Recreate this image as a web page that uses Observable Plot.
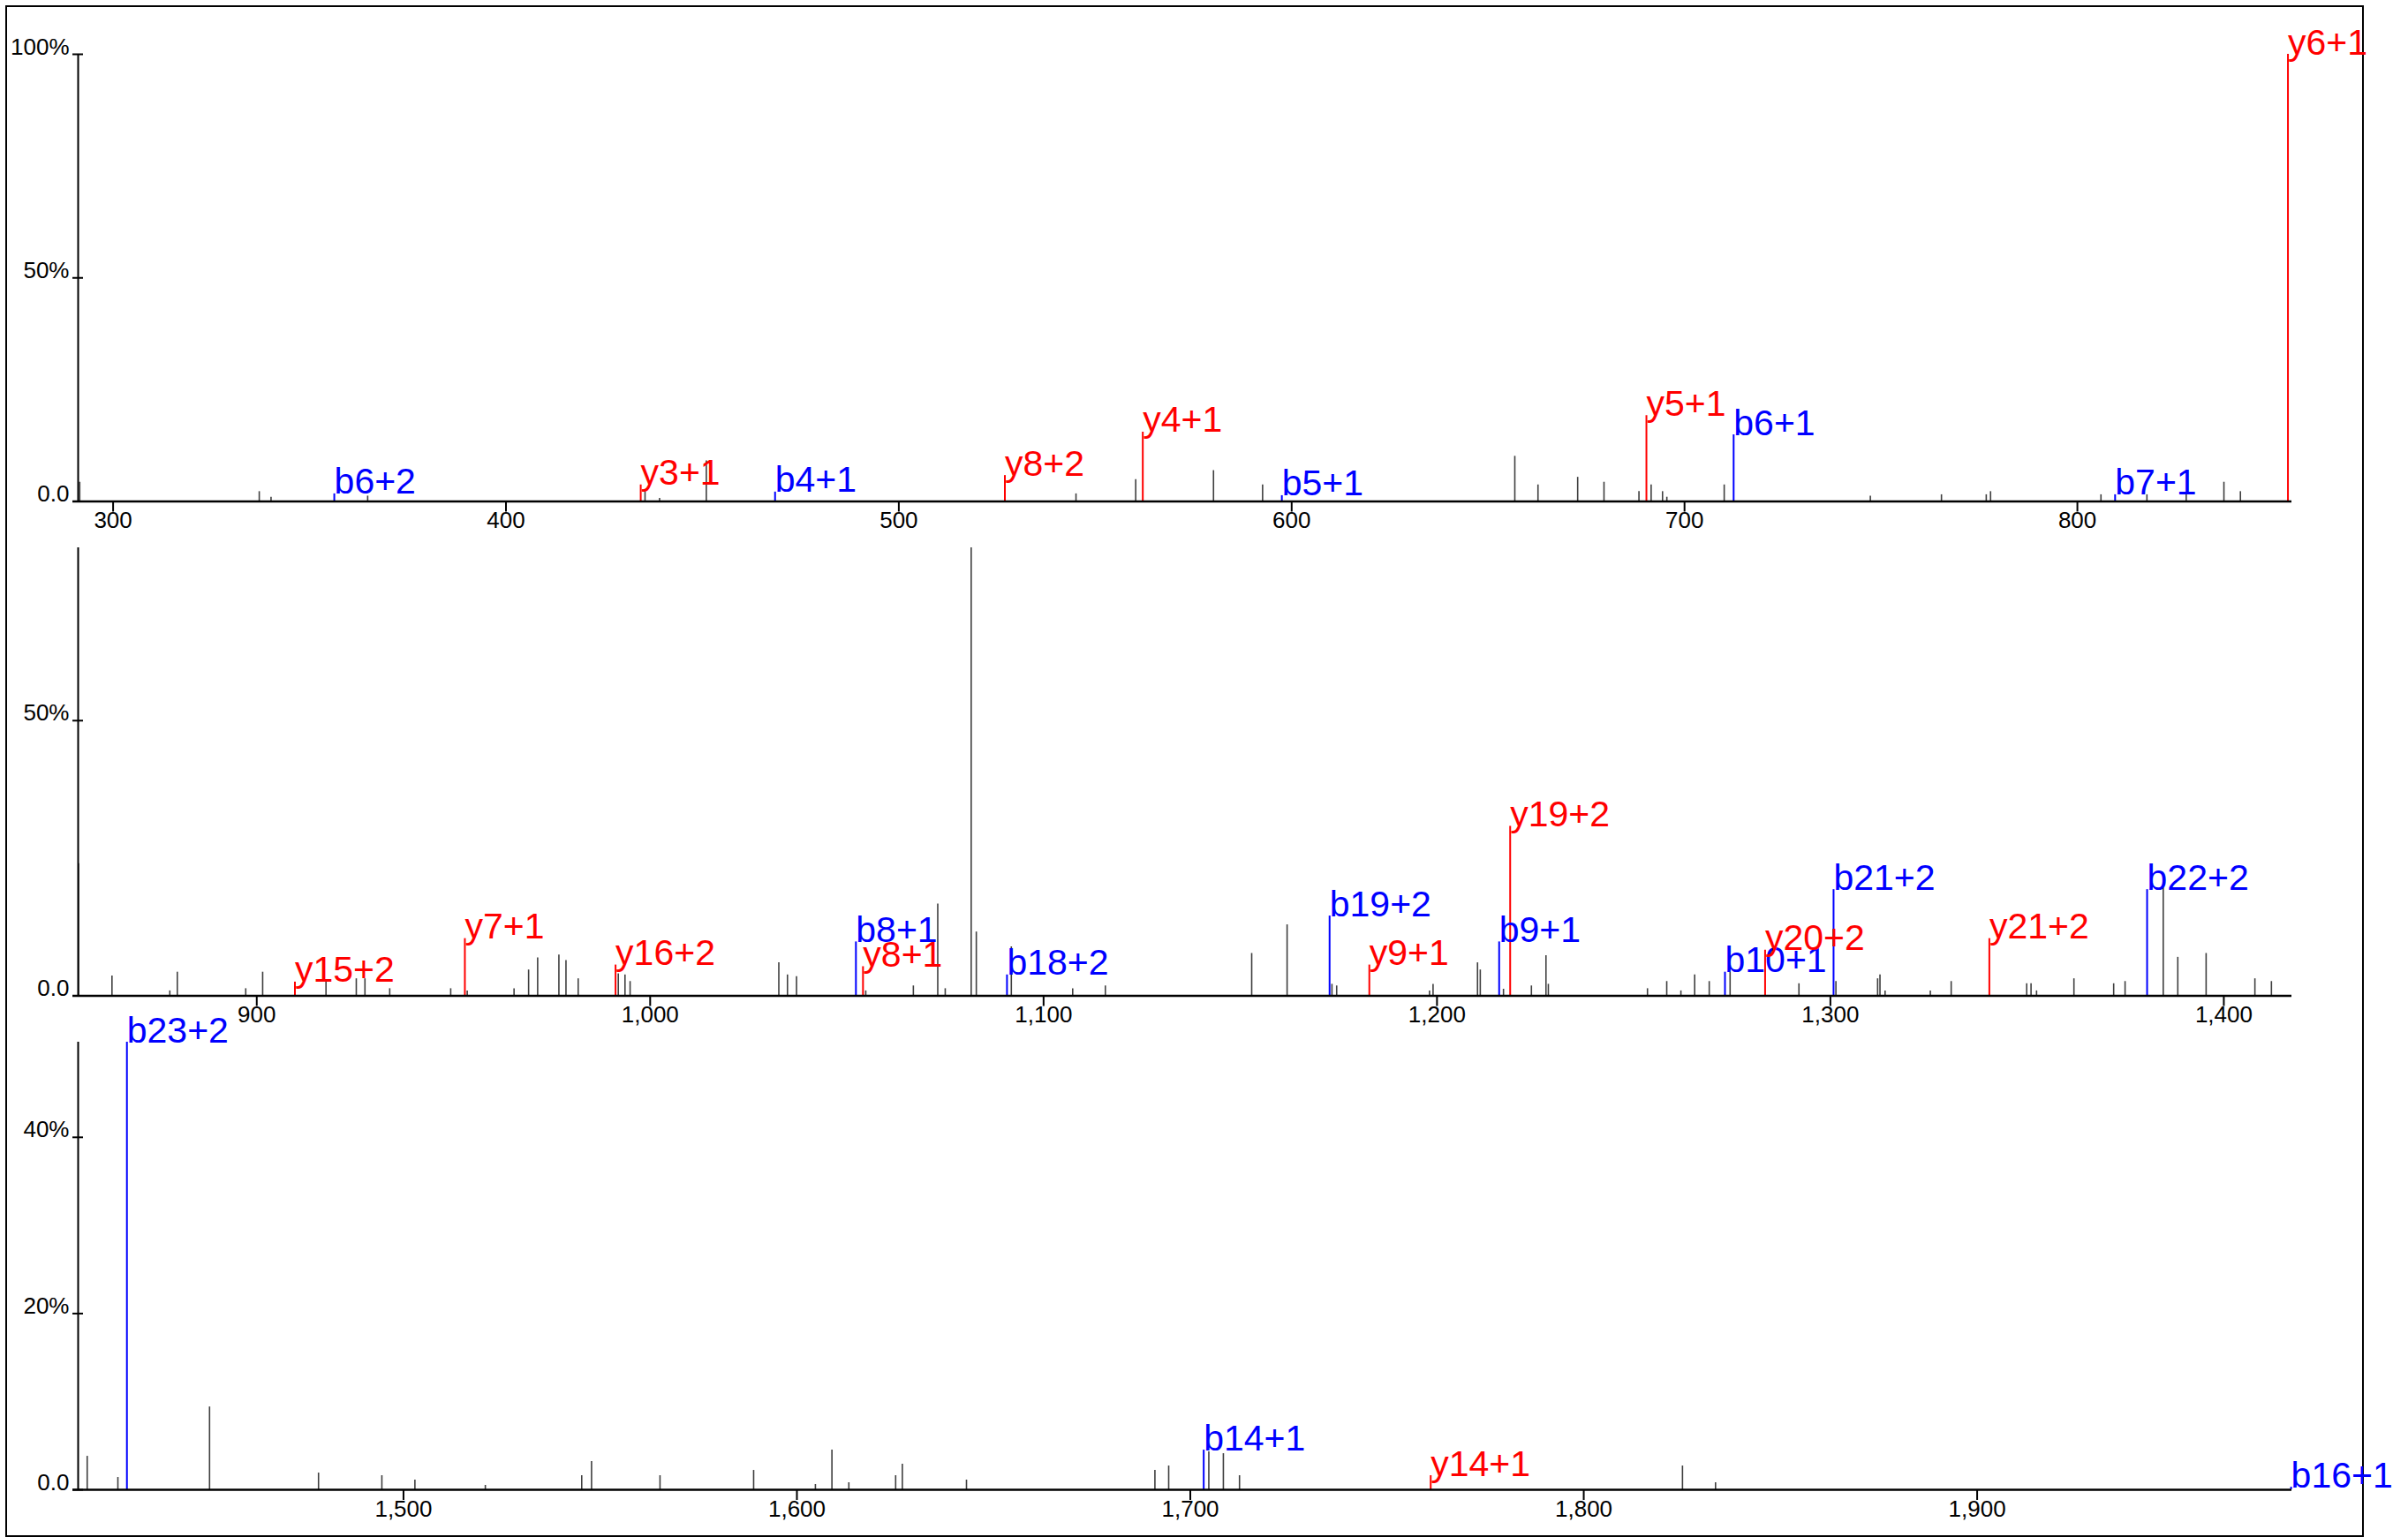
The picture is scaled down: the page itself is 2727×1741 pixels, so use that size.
<!DOCTYPE html>
<html>
<head>
<meta charset="utf-8">
<script src="https://cdn.jsdelivr.net/npm/d3@7"></script>
<script src="https://cdn.jsdelivr.net/npm/@observablehq/plot@0.6"></script>
<style>
  html, body { margin: 0; padding: 0; background: #fff; }
  #chart { position: relative; width: 2727px; height: 1741px; overflow: hidden; }
  #frame { position: absolute; left: 6px; top: 6px; width: 2671px; height: 1735px; border: 2px solid #000; box-sizing: border-box; }
  .panel { position: absolute; left: 0; }
</style>
</head>
<body>
<div id="chart"><div id="frame"></div></div>
<script>
// Unannotated peaks (m/z, relative intensity %)
const peakMz = [
  291.5, 337.2, 340.2, 364.8, 435.4, 439.1, 451.0, 545.1, 560.3, 580.1, 592.6, 656.8, 662.7, 672.8,
  679.5, 688.4, 691.5, 694.4, 695.5, 710.1, 747.3, 765.4, 776.8, 777.9, 806.0, 817.7, 827.7, 837.3, 841.5,
  854.7, 863.2, 877.9, 879.8, 897.2, 901.5, 917.6, 925.3, 927.5, 933.8, 949.3, 953.5, 965.4, 969.1,
  971.4, 976.8, 978.6, 981.7, 991.9, 993.6, 994.9, 1032.7, 1034.9, 1037.2, 1054.8, 1066.9, 1073.1,
  1075.0, 1081.6, 1082.9, 1091.8, 1107.4, 1115.7, 1152.9, 1161.9, 1173.3, 1174.5, 1198.1, 1199.0,
  1210.3, 1211.0, 1216.9, 1224.0, 1227.7, 1228.3, 1253.5, 1258.4, 1262.0, 1265.5, 1269.2, 1274.5,
  1292.0, 1301.4, 1312.0, 1312.6, 1313.9, 1325.4, 1330.7, 1349.9, 1351.0, 1352.4, 1361.9, 1372.0,
  1374.9, 1384.6, 1388.3, 1395.5, 1407.9, 1412.1,
  1419.6, 1427.4, 1450.7, 1478.4, 1494.5, 1502.9, 1520.8, 1545.3, 1547.8, 1565.2, 1589.0, 1604.7,
  1608.9, 1613.2, 1625.1, 1626.8, 1643.1, 1691.0, 1694.5, 1704.7, 1708.4, 1712.5, 1825.1, 1833.5
];
const peakInt = [
  4.3, 2.2, 0.95, 1.2, 2.4, 0.7, 9.1, 1.7, 4.9, 6.9, 3.7, 10.1, 3.7, 5.4,
  4.3, 2.2, 3.7, 2.2, 0.95, 3.7, 1.2, 1.5, 1.5, 2.2, 1.5, 1.5, 1.5, 4.3, 2.2,
  24.0, 3.6, 0.9, 4.3, 1.3, 4.3, 2.5, 3.1, 3.1, 1.3, 1.3, 0.9, 1.3, 4.7,
  6.9, 7.4, 6.4, 3.1, 4.0, 3.8, 2.6, 6.0, 3.8, 3.5, 0.9, 1.8, 16.7,
  1.3, 81.4, 11.6, 8.9, 1.3, 1.8, 7.7, 12.9, 2.1, 1.8, 0.9, 2.1,
  6.0, 4.7, 1.2, 1.8, 7.3, 2.1, 1.3, 2.6, 0.9, 3.8, 2.6, 4.3,
  2.2, 2.6, 3.1, 3.8, 0.9, 0.9, 2.6, 2.2, 2.2, 0.9, 3.1, 2.2,
  2.6, 19.6, 7.0, 7.7, 3.1, 2.6,
  3.8, 1.4, 9.4, 1.9, 1.6, 1.1, 0.5, 1.6, 3.2, 1.6, 2.2, 0.6,
  4.5, 0.8, 1.6, 2.9, 1.1, 2.2, 2.7, 4.3, 4.1, 1.6, 2.7, 0.8
];

// Annotated fragment ions
const ionLabels = [
  "b6+2", "y3+1", "b4+1", "y8+2", "y4+1", "b5+1", "y5+1", "b6+1", "b7+1", "y6+1",
  "y15+2", "y7+1", "y16+2", "b8+1", "y8+1", "b18+2", "b19+2", "y9+1", "b9+1", "y19+2",
  "b10+1", "y20+2", "b21+2", "y21+2", "b22+2",
  "b23+2", "b14+1", "y14+1", "b16+1"
];
const ionMz = [
  356.3, 434.3, 468.5, 527.0, 562.1, 597.5, 690.3, 712.5, 809.6, 853.6,
  909.7, 952.9, 991.2, 1052.3, 1054.1, 1090.7, 1172.7, 1182.8, 1215.8, 1218.6,
  1273.2, 1283.4, 1300.8, 1340.4, 1380.5,
  1429.7, 1703.4, 1761.1, 1979.8
];
const ionInt = [
  1.7, 3.7, 2.1, 5.8, 15.5, 1.3, 19.2, 14.9, 1.5, 100,
  2.5, 10.4, 5.6, 9.8, 5.3, 3.8, 14.5, 5.6, 9.8, 30.8,
  4.3, 8.3, 19.3, 10.4, 19.3,
  50.8, 4.5, 1.6, 0.3
];

// Panel m/z ranges, y maxima and ticks
const panelBounds = [291.1, 854.6, 1417.3, 1980.0];
const panelYMax = [100, 81.4, 50.8];
const panelYTicks = [[0, 50, 100], [0, 50], [0, 20, 40]];
const panelXTicks = [
  [300, 400, 500, 600, 700, 800],
  [900, 1000, 1100, 1200, 1300, 1400],
  [1500, 1600, 1700, 1800, 1900]
];

const peaks = peakMz.map((mz, i) => ({mz, intensity: peakInt[i]}));
const ions = ionLabels.map((label, i) => ({label, type: label[0], mz: ionMz[i], intensity: ionInt[i]}));

const layout = [
  {top: 0, height: 605, marginTop: 61, marginBottom: 37.5},
  {top: 605, height: 560, marginTop: 15, marginBottom: 37.5},
  {top: 1165, height: 576, marginTop: 15, marginBottom: 54}
];

const chart = document.getElementById("chart");
const fmt = d3.format(",");

layout.forEach((L, p) => {
  const lo = panelBounds[p], hi = panelBounds[p + 1];
  const inPanel = d => d.mz >= lo && d.mz < hi;
  const pk = peaks.filter(inPanel);
  const io = ions.filter(inPanel);
  const plot = Plot.plot({
    width: 2727,
    height: L.height,
    marginLeft: 88,
    marginRight: 132,
    marginTop: L.marginTop,
    marginBottom: L.marginBottom,
    style: {overflow: "visible", background: "transparent", fontFamily: "'Liberation Sans', Arial, sans-serif", color: "#000"},
    x: {domain: [lo, hi], axis: null, label: null},
    y: {domain: [0, panelYMax[p]], axis: null, label: null},
    color: {domain: ["b", "y"], range: ["#0000ff", "#ff0000"]},
    marks: [
      Plot.ruleX(pk, {x: "mz", y1: 0, y2: "intensity", stroke: "#3f3f3f", strokeWidth: 1.6}),
      Plot.ruleX(io, {x: "mz", y1: 0, y2: "intensity", stroke: "type", strokeWidth: 2}),
      Plot.text(io, {x: "mz", y: "intensity", text: "label", fill: "type", textAnchor: "start", lineAnchor: "bottom", fontSize: 41}),
      Plot.ruleY([0], {stroke: "#000", strokeWidth: 2.5, insetLeft: -6}),
      Plot.ruleX([lo], {y1: 0, y2: panelYMax[p], stroke: "#000", strokeWidth: 2}),
      Plot.axisX({ticks: panelXTicks[p], tickFormat: fmt, tickSize: 12, tickPadding: 0, fontSize: 26, strokeWidth: 2, label: null}),
      Plot.axisY({ticks: panelYTicks[p], tickFormat: d => d === 0 ? "0.0" : d + "%", tickSize: 12, dx: 6, tickPadding: 4, fontSize: 26, lineAnchor: "bottom", strokeWidth: 2, label: null})
    ]
  });
  const div = document.createElement("div");
  div.className = "panel";
  div.style.top = L.top + "px";
  div.appendChild(plot);
  chart.appendChild(div);
});
</script>
</body>
</html>
